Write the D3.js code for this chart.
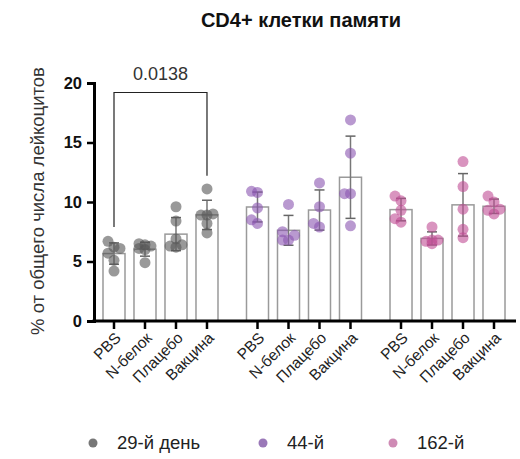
<!DOCTYPE html>
<html>
<head>
<meta charset="utf-8">
<script src="https://cdn.jsdelivr.net/npm/d3@7"></script>
<style>
  body { margin: 0; background: #fff; }
  text { font-family: "Liberation Sans", Arial, sans-serif; }
</style>
</head>
<body>
<script>
// groups = days, categories = treatment
var groups = ['29-й день', '44-й', '162-й'];
var categories = ['PBS', 'N-белок', 'Плацебо', 'Вакцина'];
var colors = ['#555555', '#8a55b0', '#c04d95'];
var legendColors = ['#777777', '#9a78b8', '#cf8bb5'];

// individual animal values, % of leukocytes
var day29 = [
  [6.7, 6.2, 5.7, 5.1, 4.2, 6.1],
  [6.5, 6.4, 6.1, 6.0, 4.9, 6.3],
  [9.6, 8.4, 6.9, 6.3, 6.2, 6.4],
  [11.1, 8.9, 8.9, 9.0, 7.4, 8.2]
];
var day44 = [
  [10.9, 10.8, 9.5, 8.2, 8.5],
  [9.8, 7.5, 6.8, 6.8, 7.2],
  [11.6, 9.6, 7.9, 8.2],
  [16.9, 14.1, 10.7, 10.7, 8.0]
];
var day162 = [
  [10.1, 10.5, 9.3, 8.6, 8.3],
  [7.9, 6.5, 6.8, 6.8, 6.7],
  [13.4, 11.3, 9.4, 7.7, 7.0],
  [10.0, 10.5, 9.0, 9.3, 9.4]
];
var yTicks = [0, 5, 10, 15, 20];
var pValue = '0.0138';

var data = [day29, day44, day162];

var w = 520, h = 459;
var svg = d3.select('body').append('svg')
  .attr('width', w)
  .attr('height', h);

var y = d3.scaleLinear().domain([0, 20]).range([321, 83]);

var x0 = d3.scaleBand()
  .domain(groups)
  .range([98.5, 509.5])
  .paddingInner(0.136)
  .paddingOuter(0);

var x1 = d3.scaleBand()
  .domain(categories)
  .range([0, x0.bandwidth()])
  .paddingInner(0.29)
  .paddingOuter(0.145);

function cx(g, c) {
  return x0(g) + x1(c) + x1.bandwidth() / 2;
}

// title
svg.append('text')
  .attr('x', 301)
  .attr('y', 27)
  .attr('text-anchor', 'middle')
  .style('font-size', '20px')
  .style('font-weight', 'bold')
  .attr('fill', '#111')
  .text('CD4+ клетки памяти');

// y label
svg.append('text')
  .attr('transform', 'translate(44,' + 201 + ') rotate(-90)')
  .attr('text-anchor', 'middle')
  .style('font-size', '18.5px')
  .style('fill', '#333')
  .text('% от общего числа лейкоцитов');

var r = 5.5;

// small swarm: centre, left or right, whichever overlaps least
function swarm(vals, center) {
  var placed = [];
  var order = vals.map(function(v, i) { return i; })
    .sort(function(a, b) { return vals[a] - vals[b]; });
  var out = new Array(vals.length);
  var step = 6, minD = r * 1.4;
  order.forEach(function(i) {
    var py = y(vals[i]);
    var best = null, bestD = -1;
    [0, -1, 1].forEach(function(o) {
      var px = center + o * step;
      var d = d3.min(placed, function(p) {
        return Math.hypot(p[0] - px, p[1] - py);
      });
      if (d === undefined) d = Infinity;
      if (best === null && d >= minD) { best = px; bestD = Infinity; }
      if (bestD !== Infinity && d > bestD) { best = px; bestD = d; }
    });
    placed.push([best, py]);
    out[i] = [best, py];
  });
  return out;
}

groups.forEach(function(g, gi) {
  categories.forEach(function(c, ci) {
    var vals = data[gi][ci];
    var m = d3.mean(vals);
    var sd = d3.deviation(vals);
    var xc = cx(g, c);
    var bw = x1.bandwidth();

    svg.append('rect')
      .attr('x', xc - bw / 2)
      .attr('y', y(m))
      .attr('width', bw)
      .attr('height', y(0) - y(m))
      .attr('fill', 'none')
      .attr('stroke', '#9a9a9a')
      .attr('stroke-width', 1.5);

    // error bar
    svg.append('line')
      .attr('x1', xc).attr('x2', xc)
      .attr('y1', y(m - sd)).attr('y2', y(m + sd))
      .attr('stroke', '#777').attr('stroke-width', 1.5);
    [m - sd, m + sd].forEach(function(v) {
      svg.append('line')
        .attr('x1', xc - 5).attr('x2', xc + 5)
        .attr('y1', y(v)).attr('y2', y(v))
        .attr('stroke', '#666').attr('stroke-width', 1.5);
    });

    svg.selectAll(null)
      .data(swarm(vals, xc))
      .enter()
      .append('circle')
      .attr('cx', function(d) { return d[0]; })
      .attr('cy', function(d) { return d[1]; })
      .attr('r', r)
      .attr('fill', colors[gi])
      .attr('fill-opacity', 0.6);
  });
});

// y axis
var yAxis = svg.append('g')
  .attr('transform', 'translate(94,0)')
  .call(d3.axisLeft(y).tickValues(yTicks).tickSize(7).tickPadding(5));
yAxis.select('.domain').attr('stroke-width', 3);
yAxis.selectAll('.tick line').attr('stroke-width', 2.5);
yAxis.selectAll('.tick text')
  .style('font-size', '16.5px')
  .style('font-weight', 'bold')
  .attr('fill', '#111');

// x axis
var xAxisG = svg.append('g');
xAxisG.append('line')
  .attr('x1', 92.5).attr('x2', 516)
  .attr('y1', y(0)).attr('y2', y(0))
  .attr('stroke', '#000').attr('stroke-width', 3);

groups.forEach(function(g) {
  categories.forEach(function(c) {
    var xc = cx(g, c);
    xAxisG.append('line')
      .attr('x1', xc).attr('x2', xc)
      .attr('y1', y(0)).attr('y2', y(0) + 8)
      .attr('stroke', '#000').attr('stroke-width', 2.5);
    xAxisG.append('text')
      .attr('transform', 'translate(' + (xc + 4) + ',' + (y(0) + 14) + ') rotate(-45)')
      .attr('text-anchor', 'end')
      .attr('dy', '0.35em')
      .style('font-size', '15.5px')
      .attr('fill', '#222')
      .text(c);
  });
});

// significance bracket PBS vs Вакцина, day 29
var bx1 = cx(groups[0], 'PBS');
var bx2 = cx(groups[0], 'Вакцина');
var by = y(19.2);
svg.append('path')
  .attr('d', 'M' + bx1 + ',' + y(7.9) + 'V' + by + 'H' + bx2 + 'V' + y(12.2))
  .attr('fill', 'none')
  .attr('stroke', '#222')
  .attr('stroke-width', 1.2);
svg.append('text')
  .attr('x', (bx1 + bx2) / 2)
  .attr('y', by - 13)
  .attr('text-anchor', 'middle')
  .style('font-size', '18px')
  .attr('fill', '#333')
  .text(pValue);

// legend
var legendX = [93, 263, 393];
groups.forEach(function(g, i) {
  svg.append('circle')
    .attr('cx', legendX[i])
    .attr('cy', 443)
    .attr('r', 4.5)
    .attr('fill', legendColors[i]);
  svg.append('text')
    .attr('x', legendX[i] + 24)
    .attr('y', 443)
    .attr('dy', '0.35em')
    .style('font-size', '18.5px')
    .attr('fill', '#222')
    .text(g);
});
</script>
</body>
</html>
